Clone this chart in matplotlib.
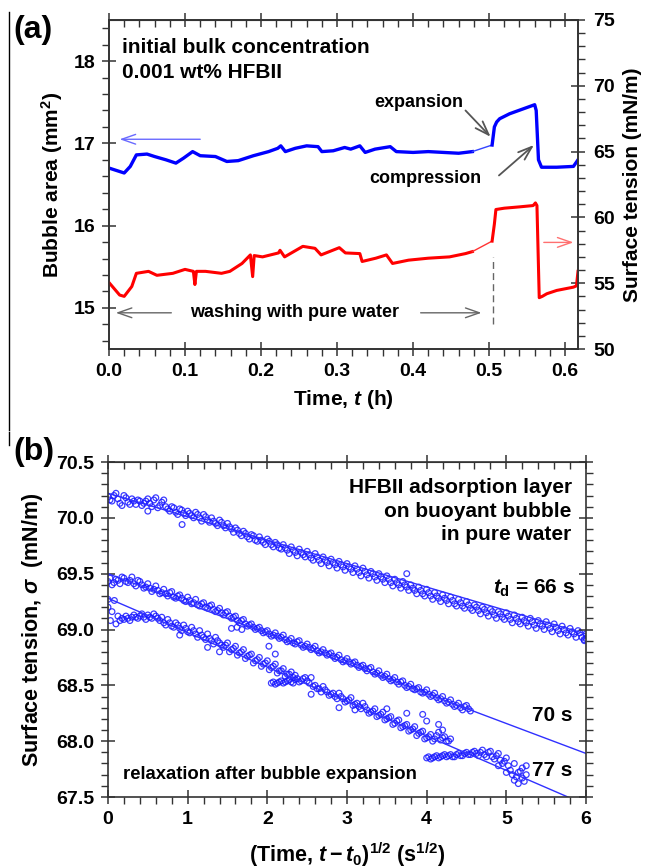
import matplotlib
matplotlib.use("Agg")
import matplotlib.pyplot as plt
from matplotlib.ticker import MultipleLocator, FormatStrFormatter

plt.rcParams['font.family'] = ['Liberation Sans', 'DejaVu Sans']
plt.rcParams['font.weight'] = 'bold'
plt.rcParams['mathtext.fontset'] = 'custom'
plt.rcParams['mathtext.rm'] = 'Liberation Sans:bold'
plt.rcParams['mathtext.it'] = 'Liberation Sans:bold:italic'
plt.rcParams['mathtext.bf'] = 'Liberation Sans:bold'

# ---------------- Panel (a) data ----------------
blue_t = [0.000, 0.010, 0.020, 0.028, 0.036, 0.050, 0.060, 0.075, 0.088, 0.098,
          0.110, 0.120, 0.140, 0.155, 0.170, 0.190, 0.210, 0.222, 0.226, 0.232,
          0.245, 0.260, 0.275, 0.280, 0.295, 0.310, 0.318, 0.330, 0.337, 0.350,
          0.370, 0.378, 0.400, 0.420, 0.440, 0.460, 0.478]
blue_area = [16.70, 16.67, 16.64, 16.72, 16.86, 16.87, 16.84, 16.80, 16.76, 16.82,
             16.90, 16.85, 16.84, 16.78, 16.79, 16.85, 16.90, 16.94, 16.97, 16.90,
             16.94, 16.97, 16.96, 16.90, 16.91, 16.95, 16.93, 16.97, 16.89, 16.93,
             16.96, 16.90, 16.89, 16.90, 16.89, 16.88, 16.90]
blue_gap_t = [0.478, 0.504]
blue_gap_area = [16.90, 16.98]
blue2_t = [0.504, 0.507, 0.510, 0.514, 0.527, 0.545, 0.560, 0.562, 0.565, 0.569,
           0.589, 0.611, 0.617]
blue2_area = [16.98, 17.20, 17.26, 17.30, 17.36, 17.42, 17.47, 17.40, 16.80, 16.71,
              16.71, 16.72, 16.80]

red_t = [0.000, 0.014, 0.020, 0.030, 0.036, 0.052, 0.063, 0.084, 0.100, 0.111,
         0.113, 0.115, 0.127, 0.148, 0.159, 0.175, 0.186, 0.189, 0.191, 0.202,
         0.223, 0.225, 0.231, 0.255, 0.271, 0.279, 0.303, 0.311, 0.330, 0.333,
         0.351, 0.365, 0.373, 0.394, 0.420, 0.448, 0.469, 0.478]
red_sigma = [55.05, 54.10, 54.00, 54.75, 55.75, 55.90, 55.60, 55.75, 56.05, 55.90,
             54.90, 55.90, 55.90, 55.75, 55.90, 56.50, 57.15, 55.50, 57.10, 57.00,
             57.30, 57.50, 57.00, 57.80, 57.65, 57.15, 57.70, 57.30, 57.25, 56.65,
             56.90, 57.15, 56.50, 56.75, 56.90, 57.00, 57.25, 57.40]
red_gap_t = [0.478, 0.504]
red_gap_sigma = [57.40, 58.20]
red2_t = [0.504, 0.507, 0.509, 0.520, 0.540, 0.558, 0.561, 0.563, 0.566, 0.570,
          0.576, 0.589, 0.611, 0.615, 0.617]
red2_sigma = [58.20, 59.50, 60.60, 60.70, 60.80, 60.90, 61.10, 60.90, 53.90, 54.00,
              54.20, 54.45, 54.70, 54.80, 55.90]

# ---------------- Panel (b) data ----------------
# t_d = 66 s: two interleaved sample sets (x step 0.05, offset 0 and 0.025)
s66_y = [70.19, 70.15, 70.22, 70.13, 70.20, 70.14, 70.17, 70.12, 70.15, 70.13,
         70.17, 70.10, 70.18, 70.11, 70.16, 70.08, 70.10, 70.05, 70.08, 70.04,
         70.06, 70.02, 70.05, 70.00, 70.03, 69.98, 70.00, 69.95, 69.98, 69.93,
         69.95, 69.90, 69.91, 69.86, 69.88, 69.83, 69.85, 69.80, 69.83, 69.78,
         69.81, 69.76, 69.78, 69.73, 69.76, 69.71, 69.74, 69.69, 69.72, 69.67,
         69.70, 69.64, 69.68, 69.62, 69.65, 69.60, 69.63, 69.58, 69.61, 69.56,
         69.59, 69.54, 69.57, 69.51, 69.55, 69.49, 69.52, 69.47, 69.50, 69.45,
         69.48, 69.42, 69.45, 69.40, 69.43, 69.38, 69.40, 69.35, 69.38, 69.32,
         69.36, 69.30, 69.33, 69.28, 69.31, 69.26, 69.29, 69.23, 69.27, 69.21,
         69.25, 69.19, 69.22, 69.17, 69.20, 69.15, 69.18, 69.13, 69.16, 69.11,
         69.15, 69.09, 69.13, 69.07, 69.11, 69.06, 69.10, 69.04, 69.08, 69.03,
         69.07, 69.01, 69.05, 68.99, 69.03, 68.97, 69.01, 68.96, 68.99, 68.93,
         68.96]
s66_x = [round(0.05 * i, 3) for i in range(len(s66_y))]
s66b_y = [70.16, 70.20, 70.17, 70.11, 70.18, 70.12, 70.15, 70.16, 70.11, 70.15,
          70.13, 70.16, 70.09, 70.14, 70.10, 70.06, 70.09, 70.03, 70.07, 70.02,
          70.04, 70.00, 70.03, 69.97, 70.01, 69.96, 69.97, 69.93, 69.96, 69.91,
          69.92, 69.87, 69.89, 69.84, 69.86, 69.81, 69.84, 69.79, 69.80, 69.76,
          69.79, 69.74, 69.76, 69.72, 69.73, 69.68, 69.71, 69.66, 69.69, 69.65,
          69.67, 69.62, 69.65, 69.59, 69.62, 69.57, 69.60, 69.55, 69.58, 69.53,
          69.56, 69.51, 69.54, 69.48, 69.52, 69.46, 69.50, 69.44, 69.47, 69.42,
          69.45, 69.39, 69.42, 69.37, 69.40, 69.35, 69.37, 69.32, 69.35, 69.30,
          69.33, 69.27, 69.30, 69.25, 69.28, 69.23, 69.26, 69.21, 69.24, 69.19,
          69.22, 69.17, 69.20, 69.14, 69.18, 69.12, 69.16, 69.10, 69.14, 69.09,
          69.12, 69.06, 69.10, 69.05, 69.08, 69.03, 69.07, 69.01, 69.05, 69.00,
          69.04, 68.98, 69.02, 68.96, 69.00, 68.95, 68.98, 68.93, 68.97, 68.91]
s66b_x = [round(0.025 + 0.05 * i, 3) for i in range(len(s66b_y))]
s66_extra_x = [0.50, 0.93, 3.75, 5.98, 6.00]
s66_extra_y = [70.06, 69.94, 69.50, 68.90, 68.92]

# t_d = 70 s
s70_y = [69.43, 69.40, 69.45, 69.41, 69.46, 69.42, 69.47, 69.39, 69.43, 69.37,
         69.41, 69.34, 69.39, 69.32, 69.36, 69.30, 69.34, 69.28, 69.31, 69.26,
         69.29, 69.23, 69.27, 69.21, 69.24, 69.19, 69.22, 69.16, 69.19, 69.13,
         69.16, 69.10, 69.12, 69.06, 69.09, 69.03, 69.05, 69.00, 69.02, 68.97,
         68.99, 68.94, 68.97, 68.92, 68.95, 68.89, 68.92, 68.87, 68.90, 68.84,
         68.87, 68.82, 68.85, 68.79, 68.82, 68.77, 68.79, 68.74, 68.77, 68.71,
         68.74, 68.69, 68.71, 68.66, 68.68, 68.63, 68.66, 68.60, 68.63, 68.57,
         68.60, 68.54, 68.57, 68.51, 68.54, 68.48, 68.51, 68.46, 68.48, 68.43,
         68.46, 68.40, 68.43, 68.37, 68.40, 68.34, 68.37, 68.31, 68.34, 68.28,
         68.32, 68.27]
s70_x = [round(0.05 * i, 3) for i in range(len(s70_y))]
s70b_y = [69.46, 69.42, 69.44, 69.47, 69.43, 69.44, 69.41, 69.44, 69.40, 69.38,
          69.37, 69.36, 69.35, 69.33, 69.32, 69.33, 69.29, 69.30, 69.28, 69.25,
          69.26, 69.24, 69.22, 69.23, 69.20, 69.21, 69.18, 69.17, 69.15, 69.15,
          69.12, 69.11, 69.08, 69.08, 69.05, 69.04, 69.02, 69.01, 68.99, 68.98,
          68.96, 68.95, 68.94, 68.93, 68.91, 68.90, 68.88, 68.89, 68.86, 68.85,
          68.84, 68.83, 68.81, 68.80, 68.79, 68.78, 68.76, 68.75, 68.73, 68.72,
          68.71, 68.70, 68.68, 68.67, 68.65, 68.65, 68.62, 68.61, 68.59, 68.58,
          68.56, 68.55, 68.53, 68.53, 68.50, 68.49, 68.47, 68.47, 68.44, 68.44,
          68.42, 68.41, 68.39, 68.38, 68.36, 68.35, 68.33, 68.32, 68.30, 68.31,
          68.29]
s70b_x = [round(0.025 + 0.05 * i, 3) for i in range(len(s70b_y))]

# t_d = 77 s
s77_x = [0.00, 0.00, 0.03, 0.05, 0.08, 0.10, 0.15, 0.20, 0.25, 0.30, 0.35, 0.40,
         0.45, 0.50, 0.55, 0.60, 0.65, 0.70, 0.75, 0.80, 0.85, 0.90, 0.95, 1.00,
         1.05, 1.10, 1.15, 1.20, 1.25, 1.30, 1.35, 1.40, 1.45, 1.50, 1.55, 1.60,
         1.65, 1.70, 1.75, 1.80, 1.85, 1.90, 1.95, 2.00, 2.05, 2.10, 2.15, 2.20,
         2.25, 2.30, 2.35,
         1.25, 1.40, 0.90, 1.55, 1.62, 1.68, 2.02, 2.10,
         2.05, 2.10, 2.15, 2.20, 2.25, 2.30, 2.35, 2.40, 2.45, 2.50, 2.55, 2.60,
         2.65, 2.70, 2.75, 2.80, 2.85, 2.90, 2.95, 3.00, 3.05, 3.10, 3.15, 3.20,
         3.25, 3.30, 3.35, 3.40, 3.45, 3.50, 3.55, 3.60, 3.65, 3.70, 3.75, 3.80,
         3.85, 3.90, 3.95, 4.00, 4.05, 4.10, 4.15, 4.20, 4.25, 4.30,
         2.55, 2.90, 3.10, 3.50, 3.75, 3.95, 4.00, 4.15, 4.20,
         4.00, 4.05, 4.10, 4.15, 4.20, 4.25, 4.30, 4.35, 4.40, 4.45, 4.50, 4.55,
         4.60, 4.65, 4.70, 4.75, 4.80, 4.85, 4.90, 4.95, 5.00, 5.05, 5.10, 5.10,
         5.15, 5.15, 5.20, 5.20, 5.25, 5.25, 5.00, 4.90]
s77_y = [69.20, 69.27, 69.08, 69.16, 69.26, 69.05, 69.08, 69.09, 69.10, 69.11,
         69.11, 69.12, 69.11, 69.13, 69.10, 69.12, 69.08, 69.06, 69.09, 69.03,
         69.06, 69.01, 69.04, 68.98, 69.02, 68.96, 68.99, 68.93, 68.96, 68.90,
         68.93, 68.88, 68.84, 68.88, 68.82, 68.85, 68.79, 68.82, 68.76, 68.78,
         68.72, 68.75, 68.69, 68.72, 68.66, 68.69, 68.63, 68.65, 68.60, 68.62,
         68.59,
         68.84, 68.80, 68.95, 69.01, 69.02, 69.00, 68.85, 68.78,
         68.52, 68.51, 68.53, 68.52, 68.54, 68.53, 68.55, 68.53, 68.56, 68.54,
         68.57, 68.50, 68.47, 68.49, 68.44, 68.42, 68.40, 68.43, 68.38, 68.36,
         68.39, 68.33, 68.31, 68.34, 68.28, 68.26, 68.29, 68.23, 68.26, 68.20,
         68.22, 68.16, 68.19, 68.13, 68.15, 68.10, 68.13, 68.07, 68.09, 68.03,
         68.06, 68.02, 68.08, 68.03, 68.00, 68.02,
         68.42, 68.30, 68.28, 68.29, 68.25, 68.24, 68.18, 68.15, 68.10,
         67.85, 67.84, 67.86, 67.85, 67.87, 67.86, 67.88, 67.86, 67.89, 67.87,
         67.90, 67.88, 67.91, 67.87, 67.92, 67.86, 67.91, 67.84, 67.89, 67.80,
         67.85, 67.74, 67.80, 67.65, 67.72, 67.62, 67.76, 67.67, 67.70, 67.78,
         67.72, 67.78]
s77a2_y = [69.12, 69.10, 69.12, 69.08, 69.13, 69.10, 69.14, 69.09, 69.11, 69.14,
           69.10, 69.11, 69.04, 69.06, 69.02, 69.04, 68.99, 69.01, 68.97, 68.99,
           68.93, 68.95, 68.91, 68.92, 68.87, 68.90, 68.86, 68.86, 68.80, 68.83,
           68.77, 68.80, 68.74, 68.77, 68.70, 68.73, 68.67, 68.70, 68.64, 68.67,
           68.61, 68.63, 68.58, 68.60, 68.57]
s77a2_x = [round(0.125 + 0.05 * i, 3) for i in range(len(s77a2_y))]
s77b2_y = [68.53, 68.52, 68.54, 68.53, 68.55, 68.52, 68.56, 68.54, 68.57, 68.52,
           68.49, 68.47, 68.44, 68.46, 68.41, 68.43, 68.38, 68.40, 68.35, 68.37,
           68.32, 68.34, 68.29, 68.31, 68.25, 68.27, 68.22, 68.24, 68.19, 68.21,
           68.15, 68.18, 68.12, 68.14, 68.09, 68.11, 68.05, 68.08, 68.02, 68.04,
           68.00, 68.05, 68.01, 68.04, 68.00]
s77b2_x = [round(2.075 + 0.05 * i, 3) for i in range(len(s77b2_y))]
s77c2_y = [67.86, 67.85, 67.87, 67.86, 67.88, 67.87, 67.86, 67.88, 67.87, 67.89,
           67.88, 67.90, 67.89, 67.90, 67.88, 67.90, 67.86, 67.87, 67.83, 67.82,
           67.78, 67.70, 67.68, 67.73, 67.64]
s77c2_x = [round(4.025 + 0.05 * i, 3) for i in range(len(s77c2_y))]

# fitted lines (end points at x = 0 and x = 6)
fit_x = [0.0, 6.0]
fit66_y = [70.22, 68.96]
fit70_y = [69.50, 67.89]
fit77_y = [69.28, 67.43]

# ---------------- Figure ----------------
fig = plt.figure(figsize=(6.47, 8.68), dpi=100)
spine_c = '#333333'
TL = 14      # tick label size
AL = 15      # axis label size


def style_axis(ax):
    for s in ax.spines.values():
        s.set_color(spine_c)
        s.set_linewidth(1.2)
    ax.tick_params(which='major', direction='inout', length=10, width=1.1,
                   color=spine_c, labelsize=TL, pad=5)
    ax.tick_params(which='minor', direction='out', length=5, width=1.0,
                   color=spine_c)


def arrow(ax, xy, xytext, color, lw=1.0):
    ax.annotate('', xy=xy, xytext=xytext,
                arrowprops=dict(arrowstyle='->,head_length=1.0,head_width=0.35',
                                color=color, lw=lw, shrinkA=0, shrinkB=0))


# ---- panel (a)
axa = fig.add_axes([109 / 647, 1 - 349 / 868, 469 / 647, 329 / 868])
axa.plot(blue_t, blue_area, color='#0000ff', lw=2.4, solid_joinstyle='round')
axa.plot(blue_gap_t, blue_gap_area, color='#3344ff', lw=1.0)
axa.plot(blue2_t, blue2_area, color='#0000ff', lw=2.4, solid_joinstyle='round')
axa.set_xlim(0, 0.617)
axa.set_ylim(14.5, 18.5)
axa.xaxis.set_major_locator(MultipleLocator(0.1))
axa.xaxis.set_minor_locator(MultipleLocator(0.02))
axa.xaxis.set_major_formatter(FormatStrFormatter('%.1f'))
axa.yaxis.set_major_locator(MultipleLocator(1))
axa.yaxis.set_minor_locator(MultipleLocator(0.2))
style_axis(axa)
axa.set_xlabel('Time, $t$ (h)', fontsize=AL, fontweight='bold', labelpad=6)
axa.set_ylabel('Bubble area (mm$^2$)', fontsize=AL, fontweight='bold', labelpad=6)

ax2 = axa.twinx()
ax2.plot(red_t, red_sigma, color='#ff0000', lw=2.2)
ax2.plot(red_gap_t, red_gap_sigma, color='#ff3333', lw=1.0)
ax2.plot(red2_t, red2_sigma, color='#ff0000', lw=2.2)
ax2.set_ylim(50, 75)
ax2.yaxis.set_major_locator(MultipleLocator(5))
ax2.yaxis.set_minor_locator(MultipleLocator(1))
style_axis(ax2)
ax2.tick_params(which='major', pad=6)
ax2.set_ylabel('Surface tension (mN/m)', fontsize=AL, fontweight='bold', labelpad=6)

topa = axa.secondary_xaxis('top')
topa.xaxis.set_major_locator(MultipleLocator(0.1))
topa.xaxis.set_minor_locator(MultipleLocator(0.02))
topa.tick_params(which='major', direction='inout', length=10, width=1.1,
                 color=spine_c, labeltop=False)
topa.tick_params(which='minor', direction='in', length=5, width=1.0, color=spine_c)
topa.spines['top'].set_color(spine_c)

axa.text(0.027, 0.945, 'initial bulk concentration\n0.001 wt% HFBII',
         transform=axa.transAxes, fontsize=15, fontweight='bold',
         va='top', ha='left', linespacing=1.4)
arrow(axa, (0.014, 17.05), (0.12, 17.05), '#6a6aff')
arrow(ax2, (0.611, 58.1), (0.572, 58.1), '#ff7070')
axa.text(0.466, 17.50, 'expansion', fontsize=13, fontweight='bold',
         ha='right', va='center')
arrow(axa, (0.502, 17.08), (0.469, 17.40), '#555555', lw=1.3)
axa.text(0.49, 16.57, 'compression', fontsize=13, fontweight='bold',
         ha='right', va='center')
arrow(axa, (0.559, 16.98), (0.513, 16.61), '#555555', lw=1.3)
axa.text(0.244, 14.94, 'washing with pure water', fontsize=13, fontweight='bold',
         ha='center', va='center')
arrow(axa, (0.009, 14.94), (0.082, 14.94), '#666666')
arrow(axa, (0.490, 14.94), (0.410, 14.94), '#666666')
axa.plot([0.505, 0.505], [14.81, 15.62], color='#666666', lw=1.0,
         dashes=(5, 3))

fig.text(13 / 647, 1 - 30 / 868, '(a)', fontsize=23, fontweight='bold',
         ha='left', va='center')

# ---- panel (b)
axb = fig.add_axes([108 / 647, 1 - 797 / 868, 478 / 647, 335 / 868])
mk = dict(marker='o', s=17, facecolors='none', edgecolors='#1a1aff',
          linewidths=0.9, alpha=0.85)
for xs, ys in [(s66_x, s66_y), (s66b_x, s66b_y), (s66_extra_x, s66_extra_y),
               (s70_x, s70_y), (s70b_x, s70b_y),
               (s77_x, s77_y), (s77a2_x, s77a2_y), (s77b2_x, s77b2_y),
               (s77c2_x, s77c2_y)]:
    axb.scatter(xs, ys, **mk)
axb.plot(fit_x, fit66_y, color='#3030ff', lw=1.0)
axb.plot(fit_x, fit70_y, color='#3030ff', lw=1.0)
axb.plot(fit_x, fit77_y, color='#3030ff', lw=1.0)
axb.set_xlim(0, 6)
axb.set_ylim(67.5, 70.5)
axb.xaxis.set_major_locator(MultipleLocator(1))
axb.xaxis.set_minor_locator(MultipleLocator(0.2))
axb.yaxis.set_major_locator(MultipleLocator(0.5))
axb.yaxis.set_minor_locator(MultipleLocator(0.1))
axb.yaxis.set_major_formatter(FormatStrFormatter('%.1f'))
style_axis(axb)
axb.tick_params(right=True, which='both')
axb.set_xlabel('(Time, $t-t_0$)$^{1/2}$ (s$^{1/2}$)', fontsize=15.5,
               fontweight='bold', labelpad=9)
axb.set_ylabel('Surface tension, $\\sigma$  (mN/m)', fontsize=15.5,
               fontweight='bold', labelpad=8)
topb = axb.secondary_xaxis('top')
topb.xaxis.set_major_locator(MultipleLocator(1))
topb.xaxis.set_minor_locator(MultipleLocator(0.2))
topb.tick_params(which='major', direction='inout', length=10, width=1.1,
                 color=spine_c, labeltop=False)
topb.tick_params(which='minor', direction='in', length=5, width=1.0, color=spine_c)
topb.spines['top'].set_color(spine_c)

axb.text(0.970, 0.952, 'HFBII adsorption layer\non buoyant bubble\nin pure water',
         transform=axb.transAxes, fontsize=15, fontweight='bold',
         ha='right', va='top', linespacing=1.3)
axb.text(0.977, 0.624, '$t_{\\rm d}$ = 66 s', transform=axb.transAxes,
         fontsize=15, fontweight='bold', ha='right', va='center')
axb.text(0.972, 0.242, '70 s', transform=axb.transAxes,
         fontsize=15, fontweight='bold', ha='right', va='center')
axb.text(0.972, 0.08, '77 s', transform=axb.transAxes,
         fontsize=15, fontweight='bold', ha='right', va='center')
axb.text(0.031, 0.066, 'relaxation after bubble expansion', transform=axb.transAxes,
         fontsize=13.3, fontweight='bold', ha='left', va='center')

fig.text(13 / 647, 1 - 452 / 868, '(b)', fontsize=23, fontweight='bold',
         ha='left', va='center')

# thin vertical margin line present in the reference image
fig.add_artist(plt.Line2D([9 / 647, 9 / 647], [1 - 430 / 868, 1 - 12 / 868],
                          color='black', lw=1.0))
fig.add_artist(plt.Line2D([9 / 647, 9 / 647], [1 - 445 / 868, 1 - 432 / 868],
                          color='black', lw=1.0))

fig.savefig('out.png', dpi=100)
